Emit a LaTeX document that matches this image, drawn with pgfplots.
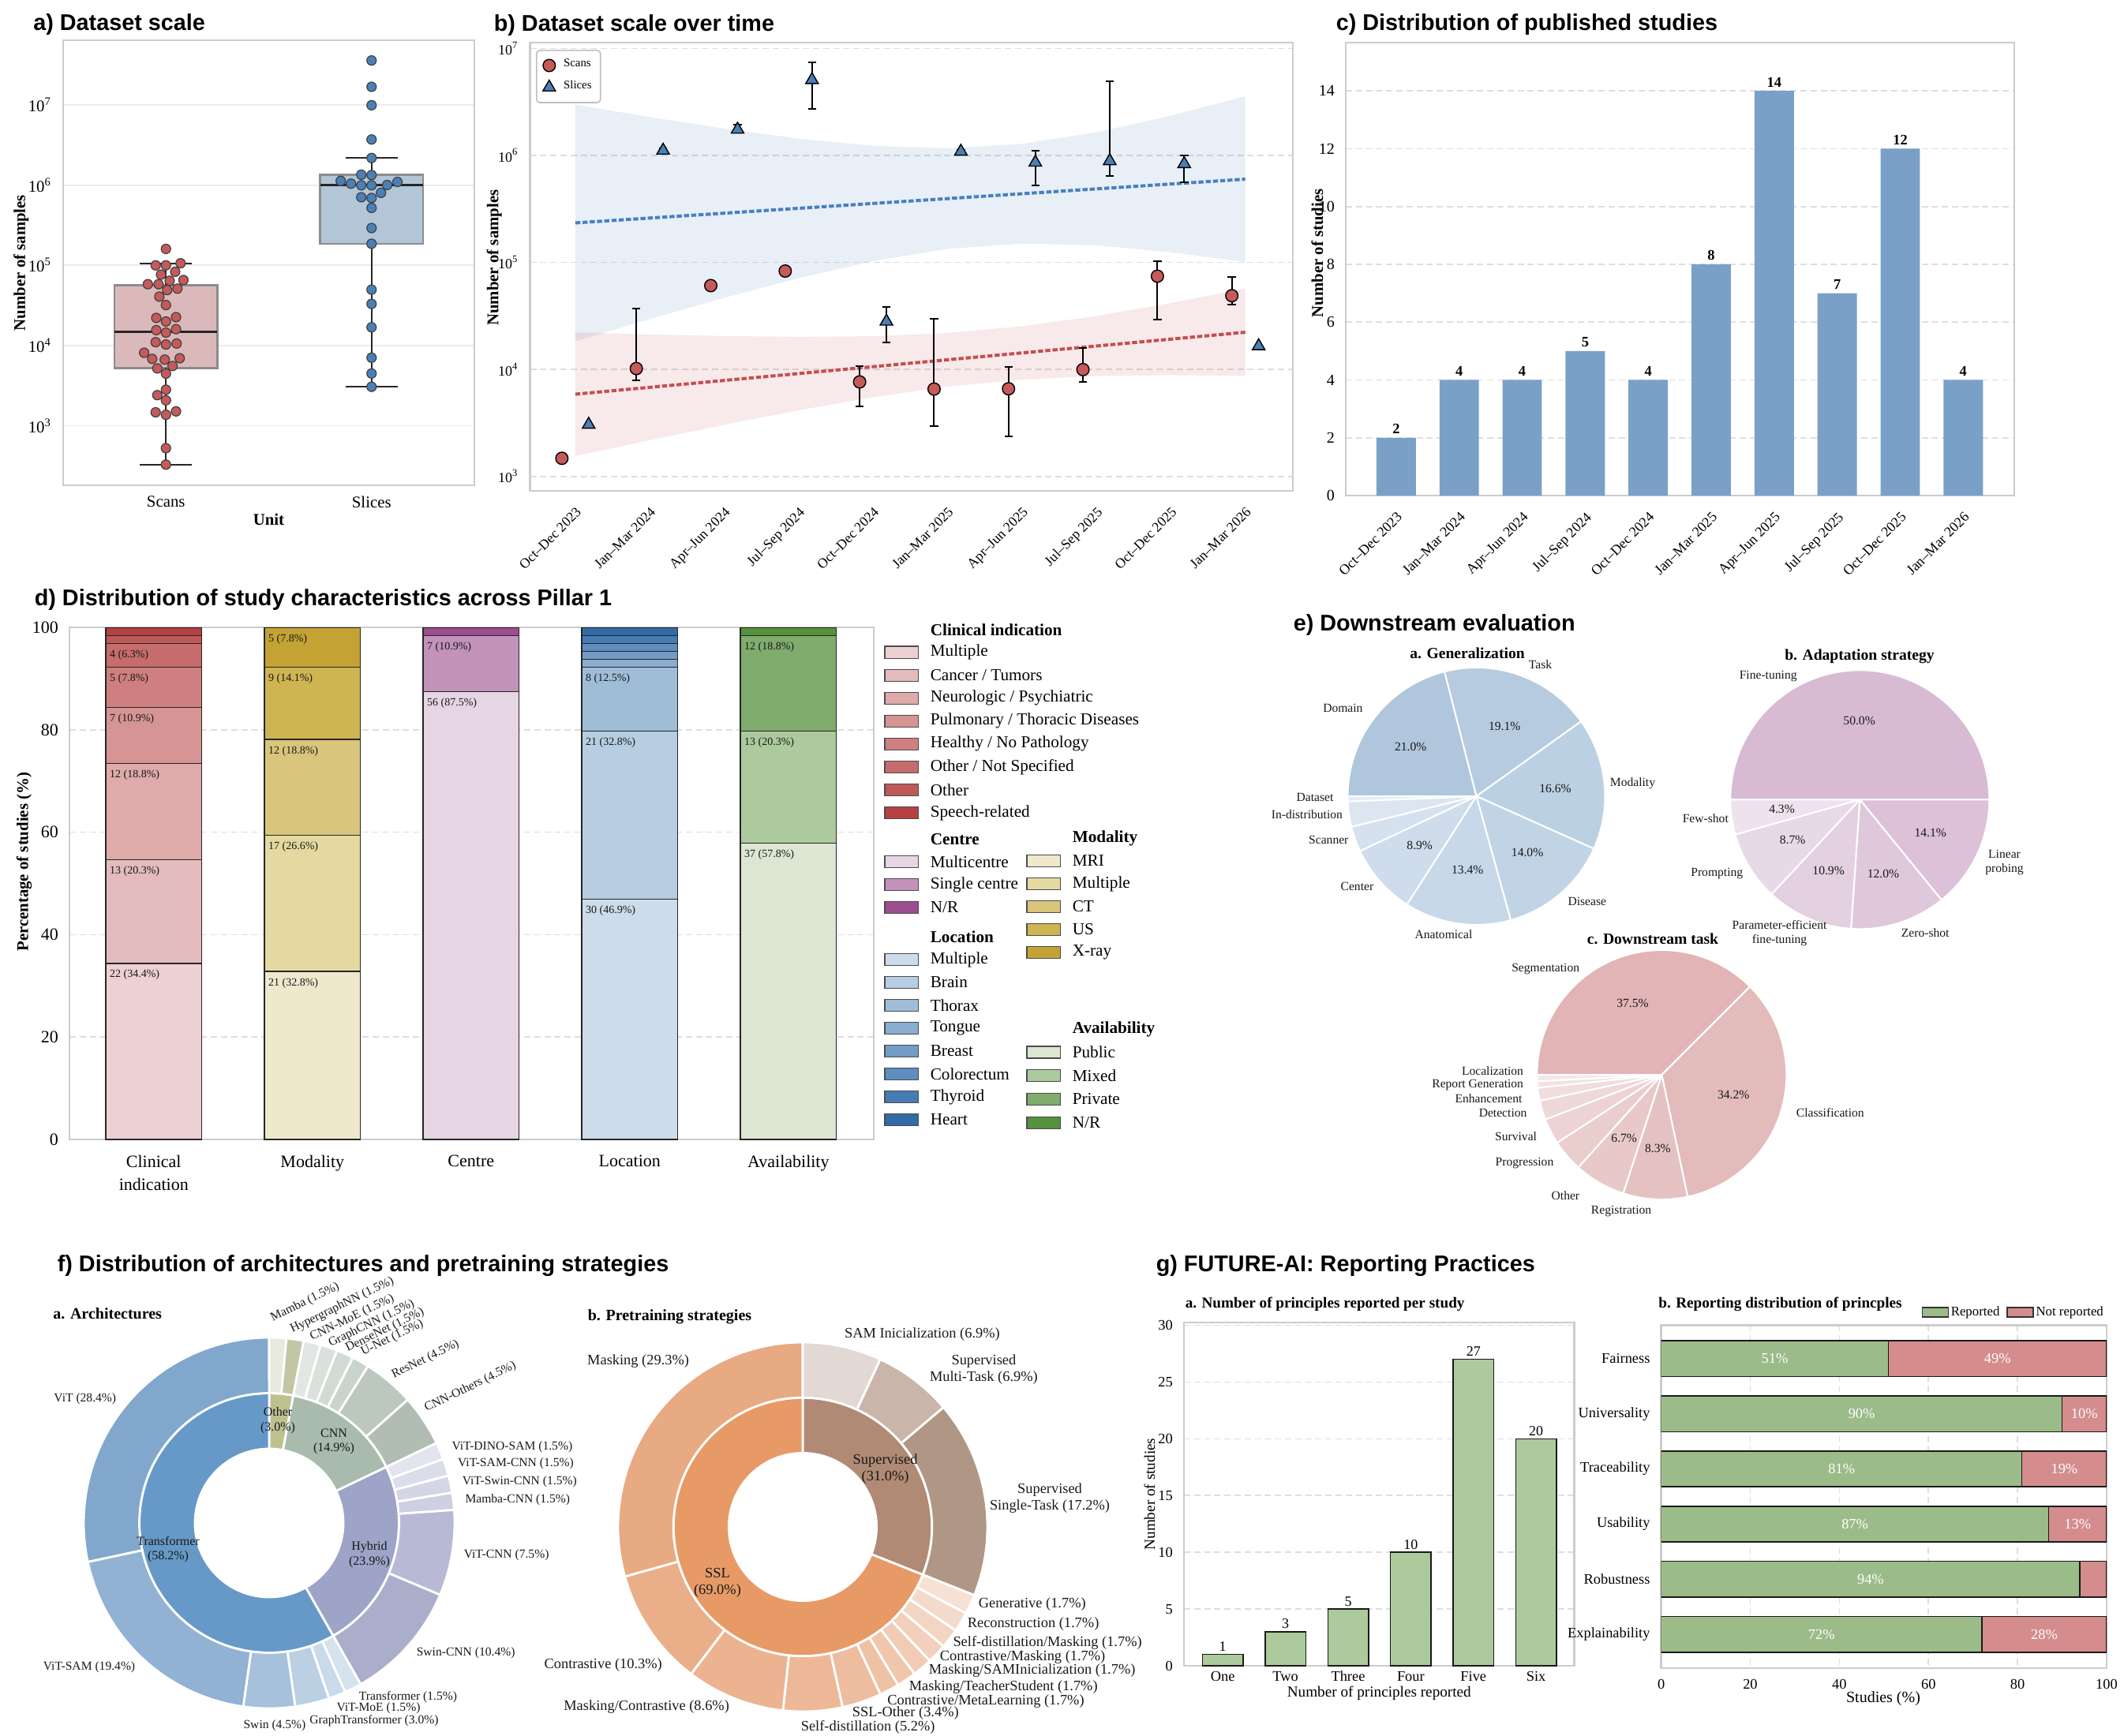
\documentclass[border=0pt]{standalone}
\usepackage{fontspec}
\setmainfont{Liberation Serif}
\newfontfamily\sansfam{Liberation Sans}
\usepackage{pgfplots}
\pgfplotsset{compat=1.18}

\newcommand\fs[2]{\fontsize{#1}{#2}\selectfont}
\newcommand\ttl{\sansfam\bfseries\fs{7.2}{8.5}}

\definecolor{fgray}{HTML}{CCCCCC}
\definecolor{sred}{HTML}{C65A5A}
\definecolor{sblue}{HTML}{4A80B6}
\definecolor{boxR}{HTML}{DBB9BA}
\definecolor{boxB}{HTML}{B2C6D8}
\definecolor{boxEdge}{HTML}{8C8C8C}
\definecolor{tred}{HTML}{C44E52}
\definecolor{tblue}{HTML}{4A7FC0}
\definecolor{cbar}{HTML}{7AA0C7}
\definecolor{rep}{HTML}{9BBB89}
\definecolor{notrep}{HTML}{D48C8C}
\definecolor{ggreen}{HTML}{ACCA9C}
% d
\definecolor{dC1}{HTML}{EDD0D2}\definecolor{dC2}{HTML}{E4BBBC}\definecolor{dC3}{HTML}{DEAAAA}\definecolor{dC4}{HTML}{D69494}
\definecolor{dC5}{HTML}{CF7F7F}\definecolor{dC6}{HTML}{C66C6C}\definecolor{dC7}{HTML}{BE5859}\definecolor{dC8}{HTML}{B54143}
\definecolor{dM1}{HTML}{F0E8CD}\definecolor{dM2}{HTML}{E4D9A0}\definecolor{dM3}{HTML}{D9C67C}\definecolor{dM4}{HTML}{CFB452}\definecolor{dM5}{HTML}{C4A334}
\definecolor{dCe1}{HTML}{E6D5E4}\definecolor{dCe2}{HTML}{C292B9}\definecolor{dCe3}{HTML}{9B4D8E}
\definecolor{dL1}{HTML}{CCDCEA}\definecolor{dL2}{HTML}{B7CDE1}\definecolor{dL3}{HTML}{A0BDD8}\definecolor{dL4}{HTML}{8AADD0}
\definecolor{dL5}{HTML}{739CC6}\definecolor{dL6}{HTML}{5E8DBE}\definecolor{dL7}{HTML}{477BB3}\definecolor{dL8}{HTML}{336AA8}
\definecolor{dA1}{HTML}{DCE6D2}\definecolor{dA2}{HTML}{ADCA9E}\definecolor{dA3}{HTML}{80AC6E}\definecolor{dA4}{HTML}{56913D}
% e
\definecolor{pa1}{HTML}{AFC6DD}\definecolor{pa2}{HTML}{B6CBE0}\definecolor{pa3}{HTML}{BCD0E3}\definecolor{pa4}{HTML}{C1D4E6}
\definecolor{pa5}{HTML}{C7D8E8}\definecolor{pa6}{HTML}{CEDCEB}\definecolor{pa7}{HTML}{D5E1EE}\definecolor{pa8}{HTML}{DCE6F1}\definecolor{pa9}{HTML}{E4ECF5}
\definecolor{pb1}{HTML}{D9BAD3}\definecolor{pb2}{HTML}{DCC1D8}\definecolor{pb3}{HTML}{DFC8DC}\definecolor{pb4}{HTML}{E3D0E0}\definecolor{pb5}{HTML}{E8D9E6}\definecolor{pb6}{HTML}{EEE2EC}
\definecolor{pc1}{HTML}{E2B4B5}\definecolor{pc2}{HTML}{E3BBBB}\definecolor{pc3}{HTML}{E5C2C2}\definecolor{pc4}{HTML}{E8C8C8}\definecolor{pc5}{HTML}{EACECE}
\definecolor{pc6}{HTML}{EDD3D3}\definecolor{pc7}{HTML}{EFD8D8}\definecolor{pc8}{HTML}{F1DDDD}\definecolor{pc9}{HTML}{F3E2E2}\definecolor{pc10}{HTML}{F5E7E7}
% f
\definecolor{fOther}{HTML}{BEC18E}\definecolor{fCNN}{HTML}{A8BBAD}\definecolor{fHyb}{HTML}{9EA3C8}\definecolor{fTrans}{HTML}{6699C8}
\definecolor{oMamba}{HTML}{E8EADF}\definecolor{oHyper}{HTML}{C2C6A4}\definecolor{oCMoE}{HTML}{E2E7E3}\definecolor{oGCNN}{HTML}{DAE0DB}
\definecolor{oDense}{HTML}{D2DAD4}\definecolor{oUNet}{HTML}{CAD3CC}\definecolor{oRes}{HTML}{BCC7BE}\definecolor{oCNNo}{HTML}{B1BDB3}
\definecolor{oVDS}{HTML}{E3E4EE}\definecolor{oVSC}{HTML}{DCDDEA}\definecolor{oVSwC}{HTML}{D4D6E6}\definecolor{oMC}{HTML}{CDCFE2}
\definecolor{oVC}{HTML}{B8BAD5}\definecolor{oSC}{HTML}{ABAECB}\definecolor{oT}{HTML}{D5E3EF}\definecolor{oVM}{HTML}{C9DAEA}
\definecolor{oGT}{HTML}{BCD0E4}\definecolor{oSwin}{HTML}{A7C0DC}\definecolor{oVS}{HTML}{92B2D4}\definecolor{oViT}{HTML}{81A7CC}
\definecolor{gSup}{HTML}{B08A74}\definecolor{gSSL}{HTML}{E79A66}
\definecolor{hSAM}{HTML}{E2D9D4}\definecolor{hSM}{HTML}{C9B5A9}\definecolor{hSS}{HTML}{B09684}\definecolor{hGen}{HTML}{F6E2D5}
\definecolor{hRec}{HTML}{F4DACA}\definecolor{hSDM}{HTML}{F3D5C3}\definecolor{hCM}{HTML}{F2D0BB}\definecolor{hMS}{HTML}{F1CBB4}
\definecolor{hMT}{HTML}{F0C6AD}\definecolor{hCML}{HTML}{EFC2A6}\definecolor{hSO}{HTML}{EEBC9F}\definecolor{hSD}{HTML}{EDB898}
\definecolor{hMC}{HTML}{ECB390}\definecolor{hCon}{HTML}{EAAF89}\definecolor{hMask}{HTML}{E8AA82}

\pgfplotsset{
  every axis/.append style={scale only axis, anchor=north west,
    axis line style={draw=fgray, line width=0.7pt},
    major tick length=0pt, minor tick length=0pt,
    /pgf/number format/assume math mode=true,
    /pgf/number format/1000 sep={},
    label style={font=\fs{5.2}{6}\bfseries, text=black},
  },
  dgrid/.style={major grid style={draw=black!13, dash pattern=on 2pt off 1.2pt, line width=0.4pt}},
}

\newcommand\ringlw{0.5pt}
% ring: cx cy start rin rout total list
\newcommand\ring[7]{%
  \begin{scope}[shift={(#1,#2)},x=0.25pt,y=0.25pt]
  \xdef\angA{#3}%
  \foreach \vv/\cc in {#7}{%
    \pgfmathsetmacro\angB{\angA-\vv/#6*360}%
    \filldraw[fill=\cc,draw=white,line width=\ringlw,line join=round]
      (\angA:#4) arc[start angle=\angA,end angle=\angB,radius=#4]
      -- (\angB:#5) arc[start angle=\angB,end angle=\angA,radius=#5] -- cycle;
    \xdef\angA{\angB}%
  }%
  \end{scope}}
% pie: cx cy start r total list
\newcommand\pie[6]{%
  \begin{scope}[shift={(#1,#2)},x=0.25pt,y=0.25pt]
  \xdef\angA{#3}%
  \foreach \vv/\cc in {#6}{%
    \pgfmathsetmacro\angB{\angA-\vv/#5*360}%
    \filldraw[fill=\cc,draw=white,line width=\ringlw,line join=round]
      (0,0) -- (\angA:#4) arc[start angle=\angA,end angle=\angB,radius=#4] -- cycle;
    \xdef\angA{\angB}%
  }%
  \end{scope}}

\begin{document}
\begin{tikzpicture}
\path[use as bounding box] (0,0) rectangle (672.75pt,-549.75pt);

%================ a) Dataset scale
\begin{axis}[at={(20pt,-12.75pt)}, width=130.25pt, height=141pt,
  xmin=-0.5, xmax=1.5, ymin=2.258, ymax=7.806,
  xtick={0,1}, xticklabels={Scans,Slices},
  ytick={3,4,5,6,7},
  yticklabels={10\textsuperscript{3},10\textsuperscript{4},10\textsuperscript{5},10\textsuperscript{6},10\textsuperscript{7}},
  tick label style={font=\fs{5.2}{6}},
  ymajorgrids, major grid style={draw=black!8, line width=0.45pt},
  ylabel={Number of samples}, xlabel={Unit},
  ylabel style={at={(axis description cs:-0.102,0.5)}, anchor=center},
  xlabel style={at={(axis description cs:0.5,-0.076)}, anchor=center},
]
\addplot[fill=boxR, draw=boxEdge, line width=0.6pt] coordinates {(-0.25,3.721) (0.25,3.721) (0.25,4.753) (-0.25,4.753)} -- cycle;
\addplot[fill=boxB, draw=boxEdge, line width=0.6pt] coordinates {(0.75,5.269) (1.25,5.269) (1.25,6.130) (0.75,6.130)} -- cycle;
\addplot[only marks, mark=*, mark size=1.5pt, mark options={fill=sred, draw=black!75, line width=0.3pt}] coordinates {
(0,5.205) (-0.050,5.0) (0,5.0) (0.071,5.026) (-0.024,4.885) (0.045,4.92) (-0.088,4.765) (-0.036,4.765) (0.018,4.808) (0.085,4.817)
(0.006,4.692) (0.056,4.71) (-0.032,4.61) (0,4.505) (-0.047,4.345) (0,4.30) (0.049,4.354) (-0.047,4.192) (0,4.162) (0.049,4.205)
(-0.050,4.042) (0,4.013) (0.052,4.026) (-0.106,3.91) (-0.067,3.834) (-0.006,3.825) (0.067,3.842) (-0.042,3.715) (0.032,3.745)
(0,3.65) (0,3.45) (-0.042,3.382) (0,3.318) (-0.050,3.168) (0,3.138) (0.049,3.18) (0,2.721) (0,2.516)};
\addplot[only marks, mark=*, mark size=1.5pt, mark options={fill=sblue, draw=black!75, line width=0.3pt}] coordinates {
(1,7.554) (1,7.226) (1,6.996) (1,6.569) (1,6.339) (0.950,6.13) (1,6.126) (0.850,6.053) (0.900,6.019) (0.950,5.998) (1,5.998)
(1.076,6.002) (1.126,6.04) (0.950,5.849) (1,5.84) (1.046,5.904) (1,5.716) (1,5.465) (1,5.269) (1,4.697) (1,4.52) (1,4.228)
(1,3.849) (1,3.652) (1,3.486)};
\addplot[black!85, line width=0.5pt] coordinates {(0,2.514) (0,3.721)};
\addplot[black!85, line width=0.5pt] coordinates {(0,4.753) (0,5.026)};
\addplot[black!85, line width=0.5pt] coordinates {(-0.127,2.514) (0.127,2.514)};
\addplot[black!85, line width=0.5pt] coordinates {(-0.127,5.026) (0.127,5.026)};
\addplot[black!85, line width=0.8pt] coordinates {(-0.25,4.173) (0.25,4.173)};
\addplot[black!85, line width=0.5pt] coordinates {(1,3.490) (1,5.269)};
\addplot[black!85, line width=0.5pt] coordinates {(1,6.130) (1,6.339)};
\addplot[black!85, line width=0.5pt] coordinates {(0.873,3.490) (1.127,3.490)};
\addplot[black!85, line width=0.5pt] coordinates {(0.873,6.339) (1.127,6.339)};
\addplot[black!85, line width=0.8pt] coordinates {(0.75,5.998) (1.25,5.998)};
\end{axis}

%================ b) Dataset scale over time
\begin{axis}[at={(167.9pt,-13.5pt)}, width=241.6pt, height=142pt,
  xmin=-0.607, xmax=9.64, ymin=2.865, ymax=7.054,
  xtick={0,...,9},
  xticklabels={Oct–Dec 2023,Jan–Mar 2024,Apr–Jun 2024,Jul–Sep 2024,Oct–Dec 2024,Jan–Mar 2025,Apr–Jun 2025,Jul–Sep 2025,Oct–Dec 2025,Jan–Mar 2026},
  xticklabel style={rotate=45, anchor=north east, font=\fs{4.4}{5}},
  ytick={3,4,5,6,7},
  yticklabels={10\textsuperscript{3},10\textsuperscript{4},10\textsuperscript{5},10\textsuperscript{6},10\textsuperscript{7}},
  yticklabel style={font=\fs{4.5}{5}},
  ymajorgrids, dgrid,
  ylabel={Number of samples},
  ylabel style={at={(axis description cs:-0.047,0.52)}, anchor=center},
  legend style={at={(0.0077,0.984)}, anchor=north west, draw=black!25, rounded corners=1pt,
    font=\fs{3.7}{4.2}, inner sep=2pt, row sep=1.3pt, nodes={inner sep=0.8pt}, cells={anchor=west},
    /tikz/every odd column/.style={column sep=1.8pt}},
]
\addplot[fill=sblue, fill opacity=0.13, draw=none, forget plot] coordinates {
(0,6.475) (1,6.358) (2,6.251) (3,6.157) (4,6.090) (5,6.066) (6,6.108) (7,6.215) (8,6.371) (9,6.553)
(9,5.003) (8,5.095) (7,5.159) (6,5.176) (5,5.126) (4,5.012) (3,4.853) (2,4.669) (1,4.470) (0,4.263)} -- cycle;
\addplot[fill=tred, fill opacity=0.12, draw=none, forget plot] coordinates {
(0,4.346) (1,4.326) (2,4.312) (3,4.304) (4,4.310) (5,4.340) (6,4.403) (7,4.499) (8,4.620) (9,4.755)
(9,3.939) (8,3.946) (7,3.937) (6,3.905) (5,3.840) (4,3.740) (3,3.618) (2,3.482) (1,3.338) (0,3.190)} -- cycle;
\addplot[draw=tblue, line width=1pt, dash pattern=on 1.6pt off 0.7pt, forget plot] coordinates {(0,5.369) (9,5.778)};
\addplot[draw=tred, line width=1pt, dash pattern=on 1.6pt off 0.7pt, forget plot] coordinates {(0,3.768) (9,4.347)};
\addplot[only marks, mark=*, mark size=1.95pt, mark options={fill=sred, draw=black, line width=0.35pt}] coordinates {
(-0.18,3.169) (1.82,4.783) (2.82,4.919)};
\addlegendentry{Scans}
\addplot[only marks, mark=triangle*, mark size=2.3pt, mark options={fill=sblue, draw=black, line width=0.35pt}] coordinates {
(0.18,3.484) (9.18,4.218)};
\addlegendentry{Slices}
\addplot[only marks, mark=*, mark size=1.95pt, mark options={fill=sred, draw=black, line width=0.35pt}, forget plot,
  error bars/.cd, y dir=both, y explicit, error bar style={line width=0.5pt, black},
  error mark options={rotate=90, mark size=1.3pt, line width=0.5pt, black}] coordinates {
(0.82,4.008) += (0,0.562) -= (0,0.111)
(3.82,3.883) += (0,0.146) -= (0,0.230)
(4.82,3.816) += (0,0.656) -= (0,0.349)
(5.82,3.819) += (0,0.206) -= (0,0.443)
(6.82,3.998) += (0,0.202) -= (0,0.118)
(7.82,4.871) += (0,0.143) -= (0,0.409)
(8.82,4.689) += (0,0.176) -= (0,0.082)};
\addplot[only marks, mark=triangle*, mark size=2.3pt, mark options={fill=sblue, draw=black, line width=0.35pt}, forget plot,
  error bars/.cd, y dir=both, y explicit, error bar style={line width=0.5pt, black},
  error mark options={rotate=90, mark size=1.3pt, line width=0.5pt, black}] coordinates {
(1.18,6.046) += (0,0.02) -= (0,0.02)
(2.18,6.242) += (0,0.048) -= (0,0.02)
(3.18,6.706) += (0,0.165) -= (0,0.275)
(4.18,4.448) += (0,0.139) -= (0,0.199)
(5.18,6.036) += (0,0.015) -= (0,0.015)
(6.18,5.934) += (0,0.112) -= (0,0.213)
(7.18,5.948) += (0,0.744) -= (0,0.139)
(8.18,5.920) += (0,0.080) -= (0,0.172)};
\end{axis}

%================ c) Distribution of published studies
\begin{axis}[at={(426.25pt,-13.5pt)}, width=211.75pt, height=143.5pt,
  ybar, bar width=0.625,
  xmin=-0.8, xmax=9.81, ymin=0, ymax=15.67,
  xtick={0,...,9},
  xticklabels={Oct–Dec 2023,Jan–Mar 2024,Apr–Jun 2024,Jul–Sep 2024,Oct–Dec 2024,Jan–Mar 2025,Apr–Jun 2025,Jul–Sep 2025,Oct–Dec 2025,Jan–Mar 2026},
  xticklabel style={rotate=45, anchor=north east, font=\fs{4.5}{5}},
  ytick={0,2,...,14}, yticklabel style={font=\fs{5}{6}},
  ymajorgrids, dgrid,
  ylabel={Number of studies},
  ylabel style={at={(axis description cs:-0.0425,0.535)}, anchor=center},
  nodes near coords, nodes near coords style={font=\fs{4.6}{5}\bfseries, inner sep=1pt},
]
\addplot[fill=cbar, draw=none] coordinates {(0,2) (1,4) (2,4) (3,5) (4,4) (5,8) (6,14) (7,7) (8,12) (9,4)};
\end{axis}

%================ d) Pillar 1
\begin{axis}[at={(22pt,-198.75pt)}, width=254.75pt, height=162.25pt,
  ybar stacked, bar width=0.605,
  xmin=-0.531, xmax=4.538, ymin=0, ymax=100,
  xtick={0,...,4}, xticklabels={{Clinical\\indication},Modality,Centre,Location,Availability},
  xticklabel style={align=center, font=\fs{5.5}{7.3}, yshift=-1.5pt},
  ytick={0,20,...,100}, yticklabel style={font=\fs{5.5}{6.5}},
  ymajorgrids, dgrid,
  ylabel={Percentage of studies (\%)},
  ylabel style={at={(axis description cs:-0.0563,0.542)}, anchor=center},
]
% Clinical indication
\addplot[fill=dC1, draw=black!85, line width=0.3pt] coordinates {(0,34.375) (1,0) (2,0) (3,0) (4,0)};
\addplot[fill=dC2, draw=black!85, line width=0.3pt] coordinates {(0,20.3125) (1,0) (2,0) (3,0) (4,0)};
\addplot[fill=dC3, draw=black!85, line width=0.3pt] coordinates {(0,18.75) (1,0) (2,0) (3,0) (4,0)};
\addplot[fill=dC4, draw=black!85, line width=0.3pt] coordinates {(0,10.9375) (1,0) (2,0) (3,0) (4,0)};
\addplot[fill=dC5, draw=black!85, line width=0.3pt] coordinates {(0,7.8125) (1,0) (2,0) (3,0) (4,0)};
\addplot[fill=dC6, draw=black!85, line width=0.3pt] coordinates {(0,4.6875) (1,0) (2,0) (3,0) (4,0)};
\addplot[fill=dC7, draw=black!85, line width=0.3pt] coordinates {(0,1.5625) (1,0) (2,0) (3,0) (4,0)};
\addplot[fill=dC8, draw=black!85, line width=0.3pt] coordinates {(0,1.5625) (1,0) (2,0) (3,0) (4,0)};
% Modality
\addplot[fill=dM1, draw=black!85, line width=0.3pt] coordinates {(0,0) (1,32.8125) (2,0) (3,0) (4,0)};
\addplot[fill=dM2, draw=black!85, line width=0.3pt] coordinates {(0,0) (1,26.5625) (2,0) (3,0) (4,0)};
\addplot[fill=dM3, draw=black!85, line width=0.3pt] coordinates {(0,0) (1,18.75) (2,0) (3,0) (4,0)};
\addplot[fill=dM4, draw=black!85, line width=0.3pt] coordinates {(0,0) (1,14.0625) (2,0) (3,0) (4,0)};
\addplot[fill=dM5, draw=black!85, line width=0.3pt] coordinates {(0,0) (1,7.8125) (2,0) (3,0) (4,0)};
% Centre
\addplot[fill=dCe1, draw=black!85, line width=0.3pt] coordinates {(0,0) (1,0) (2,87.5) (3,0) (4,0)};
\addplot[fill=dCe2, draw=black!85, line width=0.3pt] coordinates {(0,0) (1,0) (2,10.9375) (3,0) (4,0)};
\addplot[fill=dCe3, draw=black!85, line width=0.3pt] coordinates {(0,0) (1,0) (2,1.5625) (3,0) (4,0)};
% Location
\addplot[fill=dL1, draw=black!85, line width=0.3pt] coordinates {(0,0) (1,0) (2,0) (3,46.875) (4,0)};
\addplot[fill=dL2, draw=black!85, line width=0.3pt] coordinates {(0,0) (1,0) (2,0) (3,32.8125) (4,0)};
\addplot[fill=dL3, draw=black!85, line width=0.3pt] coordinates {(0,0) (1,0) (2,0) (3,12.5) (4,0)};
\addplot[fill=dL4, draw=black!85, line width=0.3pt] coordinates {(0,0) (1,0) (2,0) (3,1.5625) (4,0)};
\addplot[fill=dL5, draw=black!85, line width=0.3pt] coordinates {(0,0) (1,0) (2,0) (3,1.5625) (4,0)};
\addplot[fill=dL6, draw=black!85, line width=0.3pt] coordinates {(0,0) (1,0) (2,0) (3,1.5625) (4,0)};
\addplot[fill=dL7, draw=black!85, line width=0.3pt] coordinates {(0,0) (1,0) (2,0) (3,1.5625) (4,0)};
\addplot[fill=dL8, draw=black!85, line width=0.3pt] coordinates {(0,0) (1,0) (2,0) (3,1.5625) (4,0)};
% Availability
\addplot[fill=dA1, draw=black!85, line width=0.3pt] coordinates {(0,0) (1,0) (2,0) (3,0) (4,57.8125)};
\addplot[fill=dA2, draw=black!85, line width=0.3pt] coordinates {(0,0) (1,0) (2,0) (3,0) (4,21.875)};
\addplot[fill=dA3, draw=black!85, line width=0.3pt] coordinates {(0,0) (1,0) (2,0) (3,0) (4,18.75)};
\addplot[fill=dA4, draw=black!85, line width=0.3pt] coordinates {(0,0) (1,0) (2,0) (3,0) (4,1.5625)};
\end{axis}

%================ g-a
\begin{axis}[at={(375pt,-419pt)}, width=123.65pt, height=108.75pt,
  ybar, bar width=0.65,
  xmin=-0.62, xmax=5.61, ymin=0, ymax=30.24,
  xtick={0,...,5}, xticklabels={One,Two,Three,Four,Five,Six},
  ytick={0,5,...,30},
  tick label style={font=\fs{4.6}{5.5}},
  xticklabel style={yshift=1.8pt},
  ymajorgrids, dgrid,
  label style={font=\fs{4.8}{5.5}\mdseries},
  ylabel={Number of studies}, xlabel={Number of principles reported},
  ylabel style={at={(axis description cs:-0.088,0.5)}, anchor=center},
  xlabel style={at={(axis description cs:0.5,-0.0805)}, anchor=center},
  nodes near coords, nodes near coords style={font=\fs{4.5}{5}, inner sep=0.8pt},
]
\addplot[fill=ggreen, draw=black!90, line width=0.35pt] coordinates {(0,1) (1,3) (2,5) (3,10) (4,27) (5,20)};
\end{axis}

%================ g-b
\begin{axis}[at={(526.15pt,-419.85pt)}, width=141.1pt, height=108.65pt,
  xbar stacked, bar width=0.647,
  xmin=0, xmax=100, ymin=-0.606, ymax=5.612, y dir=reverse,
  ytick={0,...,5}, yticklabels={Fairness,Universality,Traceability,Usability,Robustness,Explainability},
  xtick={0,20,...,100},
  tick label style={font=\fs{4.6}{5.5}},
  xmajorgrids, dgrid,
  label style={font=\fs{5}{6}\mdseries},
  xlabel={Studies (\%)},
  xlabel style={at={(axis description cs:0.4986,-0.0897)}, anchor=center},
]
\addplot[fill=rep, draw=black!90, line width=0.35pt] coordinates {(51,0) (90,1) (81,2) (87,3) (94,4) (72,5)};
\addplot[fill=notrep, draw=black!90, line width=0.35pt] coordinates {(49,0) (10,1) (19,2) (13,3) (6,4) (28,5)};
\end{axis}

%================ TikZ annotations (pixel coordinates, y down)
\begin{scope}[x=0.25pt,y=-0.25pt]
% titles
\node[anchor=base west, inner sep=0pt, font=\ttl] at (41.5,38) {a) Dataset scale};
\node[anchor=base west, inner sep=0pt, font=\ttl] at (625,39) {b) Dataset scale over time};
\node[anchor=base west, inner sep=0pt, font=\ttl] at (1692,38) {c) Distribution of published studies};
\node[anchor=base west, inner sep=0pt, font=\ttl] at (43,767) {d) Distribution of study characteristics across Pillar 1};
\node[anchor=base west, inner sep=0pt, font=\ttl] at (1638,799) {e) Downstream evaluation};
\node[anchor=base west, inner sep=0pt, font=\ttl] at (72,1611) {f) Distribution of architectures and pretraining strategies};
\node[anchor=base west, inner sep=0pt, font=\ttl] at (1464,1611) {g) FUTURE-AI: Reporting Practices};

% d segment labels
\foreach \xx/\yy/\tt in {138.3/1228.4/22 (34.4\%), 138.3/1096.6/13 (20.3\%), 138.3/974.9/12 (18.8\%), 138.3/903.9/7 (10.9\%),
  138.3/853.2/5 (7.8\%), 138.3/822.8/4 (6.3\%),
  339.3/1238.6/21 (32.8\%), 339.3/1066.2/17 (26.6\%), 339.3/944.5/12 (18.8\%), 339.3/853.2/9 (14.1\%), 339.3/802.5/5 (7.8\%),
  540.3/883.6/56 (87.5\%), 540.3/812.6/7 (10.9\%),
  741.3/1147.3/30 (46.9\%), 741.3/934.3/21 (32.8\%), 741.3/853.2/8 (12.5\%),
  942.3/1076.3/37 (57.8\%), 942.3/934.3/13 (20.3\%), 942.3/812.6/12 (18.8\%)}{
  \node[anchor=north west, inner sep=0pt, font=\fs{3.5}{4}, text=black!90] at (\xx,\yy) {\tt};
}

% d legend
\tikzset{lbx/.style={draw=black!70, line width=0.35pt}, ltx/.style={anchor=west, inner sep=0pt, font=\fs{5.3}{6}}, lhd/.style={anchor=west, inner sep=0pt, font=\fs{5.3}{6}\bfseries}}
\node[lhd] at (1178,798.3) {Clinical indication};
\foreach \yy/\cc/\tt in {826.7/dC1/{Multiple}, 855.8/dC2/{Cancer / Tumors}, 884.8/dC3/{Neurologic / Psychiatric}, 913.8/dC4/{Pulmonary / Thoracic Diseases},
  942.9/dC5/{Healthy / No Pathology}, 971.9/dC6/{Other / Not Specified}, 1001/dC7/{Other}, 1030/dC8/{Speech-related},
  1092/dCe1/{Multicentre}, 1121/dCe2/{Single centre}, 1150/dCe3/{N/R},
  1216/dL1/{Multiple}, 1245/dL2/{Brain}, 1274/dL3/{Thorax}, 1303/dL4/{Tongue}, 1332/dL5/{Breast}, 1361/dL6/{Colorectum}, 1390/dL7/{Thyroid}, 1419/dL8/{Heart}}{
  \filldraw[fill=\cc, lbx] (1121,\yy-7.6) rectangle (1163.7,\yy+7.6);
  \node[ltx] at (1178,\yy) {\tt};
}
\node[lhd] at (1178,1063.3) {Centre};
\node[lhd] at (1178,1187) {Location};
\node[lhd] at (1358,1062) {Modality};
\node[lhd] at (1358,1304) {Availability};
\foreach \yy/\cc/\tt in {1091/dM1/{MRI}, 1120/dM2/{Multiple}, 1149/dM3/{CT}, 1178/dM4/{US}, 1207/dM5/{X-ray},
  1333.5/dA1/{Public}, 1363/dA2/{Mixed}, 1393/dA3/{Private}, 1423/dA4/{N/R}}{
  \filldraw[fill=\cc, lbx] (1301,\yy-7.6) rectangle (1343.7,\yy+7.6);
  \node[ltx] at (1358,\yy) {\tt};
}

% g-b bar labels
\foreach \xx/\yy/\tt in {2248.5/1721.8/51\%, 2530.7/1721.8/49\%, 2358.6/1791.7/90\%, 2640.8/1791.7/10\%,
  2333.2/1861.6/81\%, 2615.4/1861.6/19\%, 2350.1/1931.5/87\%, 2632.3/1931.5/13\%, 2369.9/2001.4/94\%,
  2307.8/2071.3/72\%, 2590/2071.3/28\%}{
  \node[text=white, font=\fs{4.6}{5}, inner sep=0pt] at (\xx,\yy) {\tt};
}

% g legend and subtitles
\filldraw[fill=rep, draw=black!80, line width=0.3pt] (2435.5,1657) rectangle (2468.7,1669);
\node[anchor=west, inner sep=0pt, font=\fs{4.2}{5}] at (2471,1663) {Reported};
\filldraw[fill=notrep, draw=black!80, line width=0.3pt] (2543,1657) rectangle (2576,1669);
\node[anchor=west, inner sep=0pt, font=\fs{4.2}{5}] at (2578.7,1663) {Not reported};
\node[anchor=west, inner sep=0pt, font=\fs{4.8}{5.5}\bfseries] at (1501,1653) {a. Number of principles reported per study};
\node[anchor=west, inner sep=0pt, font=\fs{4.8}{5.5}\bfseries] at (2100.6,1653) {b. Reporting distribution of princples};

% e pies
\renewcommand\ringlw{0.5pt}
\pie{1870.5}{1009}{180}{163}{157}{33/pa1,30/pa2,26/pa3,22/pa4,21/pa5,14/pa6,5/pa7,5/pa8,1/pa9}
\pie{2356.3}{1013.3}{180}{164}{92}{46/pb1,13/pb2,11/pb3,10/pb4,8/pb5,4/pb6}
\pie{2105.3}{1362}{180}{158}{120}{45/pc1,41/pc2,10/pc3,8/pc4,5/pc5,4/pc6,3/pc7,2/pc8,1/pc9,1/pc10}
\node[inner sep=0pt, font=\fs{4.9}{5.5}\bfseries] at (1859,828) {a. Generalization};
\node[inner sep=0pt, font=\fs{4.9}{5.5}\bfseries] at (2356,831.4) {b. Adaptation strategy};
\node[inner sep=0pt, font=\fs{4.9}{5.5}\bfseries] at (2094,1190) {c. Downstream task};
\begin{scope}[shift={(1870.5,1009)},x=0.25pt,y=0.25pt, every node/.style={font=\fs{3.9}{4.6}, inner sep=0pt, text=black!90}]
\node at (-169.1,111.2) {Domain}; \node at (81.1,167.3) {Task}; \node at (198,15.8) {Modality};
\node at (140.3,-133.2) {Disease}; \node at (-41.5,-175) {Anatomical}; \node at (-151.1,-114.8) {Center};
\node at (-187.2,-55.6) {Scanner}; \node at (-214.6,-23) {In-distribution}; \node at (-204.5,-1) {Dataset};
\node at (-83.3,62.8) {21.0\%}; \node at (35.7,88.3) {19.1\%}; \node at (99.9,9.2) {16.6\%};
\node at (64.6,-70.9) {14.0\%}; \node at (-11.2,-93.4) {13.4\%}; \node at (-71.8,-62.8) {8.9\%};
\end{scope}
\begin{scope}[shift={(2356.3,1013.3)},x=0.25pt,y=0.25pt, every node/.style={font=\fs{3.9}{4.6}, inner sep=0pt, text=black!90, align=center}]
\node at (-116.1,156.4) {Fine-tuning}; \node at (-0.7,100.3) {50.0\%}; \node at (-195.5,-23.7) {Few-shot};
\node at (-98.8,-12.5) {4.3\%}; \node at (-85.1,-51.3) {8.7\%}; \node at (-181,-94.1) {Prompting};
\node at (-39.7,-90) {10.9\%}; \node at (29.6,-94.1) {12.0\%}; \node at (89.4,-41.6) {14.1\%};
\node at (183.2,-79.8) {Linear\\probing}; \node at (-101.7,-169.1) {Parameter-efficient\\fine-tuning};
\node at (82.9,-169.1) {Zero-shot};
\end{scope}
\begin{scope}[shift={(2105.3,1362)},x=0.25pt,y=0.25pt, every node/.style={font=\fs{3.9}{4.6}, inner sep=0pt, text=black!90}]
\node at (-147.1,134.2) {Segmentation}; \node at (-36.8,90.3) {37.5\%}; \node at (90.9,-25.5) {34.2\%};
\node at (213.5,-48.5) {Classification}; \node at (-47.6,-80.6) {6.7\%}; \node at (-5,-92.9) {8.3\%};
\node at (-51.2,-173) {Registration}; \node at (-121.9,-153.1) {Other}; \node at (-173.8,-112.2) {Progression};
\node at (-184.7,-78.1) {Survival}; \node at (-201.2,-48.5) {Detection}; \node at (-219.3,-30.6) {Enhancement};
\node[anchor=east] at (-174.5,-12.8) {Report Generation}; \node[anchor=east] at (-174.5,5.1) {Localization};
\end{scope}

% f donuts
\renewcommand\ringlw{0.7pt}
\ring{341}{1930}{90}{94}{164.5}{67}{2/fOther,10/fCNN,16/fHyb,39/fTrans}
\ring{341}{1930}{90}{164.5}{235}{67}{1/oMamba,1/oHyper,1/oCMoE,1/oGCNN,1/oDense,1/oUNet,3/oRes,3/oCNNo,1/oVDS,1/oVSC,1/oVSwC,1/oMC,5/oVC,7/oSC,1/oT,1/oVM,2/oGT,3/oSwin,13/oVS,19/oViT}
\ring{1017}{1935}{90}{93.6}{163.8}{58}{18/gSup,40/gSSL}
\ring{1017}{1935}{90}{163.8}{234}{58}{4/hSAM,4/hSM,10/hSS,1/hGen,1/hRec,1/hSDM,1/hCM,1/hMS,1/hMT,1/hCML,2/hSO,3/hSD,5/hMC,6/hCon,17/hMask}
\node[anchor=west, inner sep=0pt, font=\fs{5}{6}\bfseries] at (66.6,1665) {a. Architectures};
\node[anchor=west, inner sep=0pt, font=\fs{5}{6}\bfseries] at (744,1669) {b. Pretraining strategies};
\begin{scope}[shift={(341,1930)},x=0.25pt,y=0.25pt, every node/.style={font=\fs{3.9}{4.6}, inner sep=0pt, text=black!90}]
\foreach \xx/\yy/\tt in {4/255/Mamba (1.5\%), 29/240.7/HypergraphNN (1.5\%), 54/230.7/CNN-MoE (1.5\%), 77.3/222.7/GraphCNN (1.5\%),
  99/216.7/DenseNet (1.5\%), 118.3/211.7/U-Net (1.5\%), 157.3/183.3/ResNet (4.5\%), 199/140.7/CNN-Others (4.5\%)}{
  \node[rotate=26, anchor=base west] at (\xx,\yy) {\tt};
}
\node[anchor=west] at (230.7,96.7) {ViT-DINO-SAM (1.5\%)};
\node[anchor=west] at (238.3,75) {ViT-SAM-CNN (1.5\%)};
\node[anchor=west] at (244,52.7) {ViT-Swin-CNN (1.5\%)};
\node[anchor=west] at (247.7,29.3) {Mamba-CNN (1.5\%)};
\node[anchor=west] at (246,-40.8) {ViT-CNN (7.5\%)};
\node[anchor=west] at (186,-165) {Swin-CNN (10.4\%)};
\node at (176,-221) {Transformer (1.5\%)};
\node at (138.5,-235) {ViT-MoE (1.5\%)};
\node at (133,-250.2) {GraphTransformer (3.0\%)};
\node at (7,-256.3) {Swin (4.5\%)};
\node[anchor=east] at (-193,157.3) {ViT (28.4\%)};
\node[anchor=east] at (-169,-183) {ViT-SAM (19.4\%)};
\node[align=center, font=\fs{4}{4.6}] at (11,130) {Other\\(3.0\%)};
\node[align=center, font=\fs{4}{4.6}] at (82,103.3) {CNN\\(14.9\%)};
\node[align=center, font=\fs{4}{4.6}] at (127,-40) {Hybrid\\(23.9\%)};
\node[align=center, font=\fs{4}{4.6}] at (-128,-33.4) {Transformer\\(58.2\%)};
\end{scope}
\begin{scope}[shift={(1017,1935)},x=0.25pt,y=0.25pt, every node/.style={font=\fs{4.6}{5.2}, inner sep=0pt, text=black!90}]
\node at (151.4,243.8) {SAM Inicialization (6.9\%)};
\node[align=center] at (229.4,199.2) {Supervised\\Multi-Task (6.9\%)};
\node[align=center] at (313,36.4) {Supervised\\Single-Task (17.2\%)};
\node[anchor=west] at (222,-98.5) {Generative (1.7\%)};
\node[anchor=west] at (208,-123) {Reconstruction (1.7\%)};
\node[anchor=west] at (189.7,-146.6) {Self-distillation/Masking (1.7\%)};
\node[anchor=west] at (173,-165) {Contrastive/Masking (1.7\%)};
\node[anchor=west] at (159,-182.5) {Masking/SAMInicialization (1.7\%)};
\node[anchor=west] at (134,-202.8) {Masking/TeacherStudent (1.7\%)};
\node[anchor=west] at (106.5,-221.2) {Contrastive/MetaLearning (1.7\%)};
\node[anchor=west] at (62,-236.3) {SSL-Other (3.4\%)};
\node[anchor=west] at (-3,-253.8) {Self-distillation (5.2\%)};
\node[anchor=east] at (-92.3,-228) {Masking/Contrastive (8.6\%)};
\node[anchor=east] at (-177.4,-175) {Contrastive (10.3\%)};
\node[anchor=east] at (-143.2,210) {Masking (29.3\%)};
\node[align=center] at (104.6,73.4) {Supervised\\(31.0\%)};
\node[align=center] at (-108,-71) {SSL\\(69.0\%)};
\end{scope}
\end{scope}
\end{tikzpicture}
\end{document}
